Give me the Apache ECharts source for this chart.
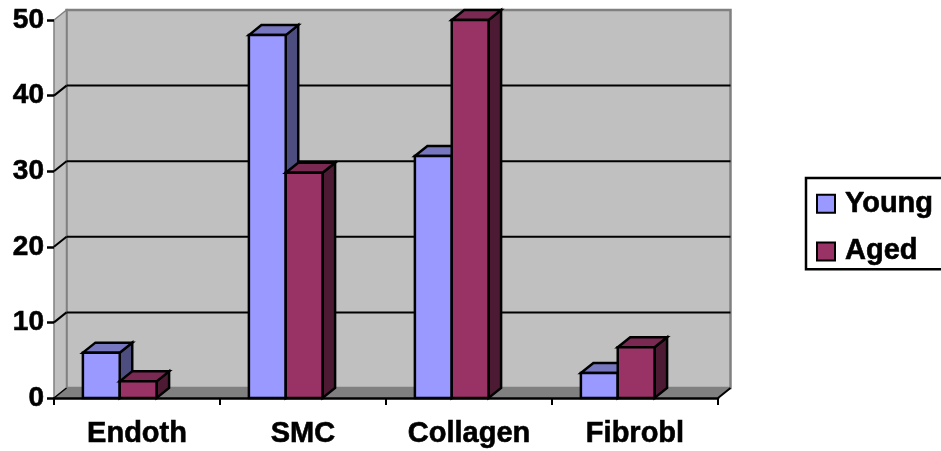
<!DOCTYPE html>
<html>
<head>
<meta charset="utf-8">
<style>html,body{margin:0;padding:0;background:#fff;overflow:hidden}#chart{width:941px;height:451px}</style>
<script src="https://cdn.jsdelivr.net/npm/echarts@6/dist/echarts.min.js"></script>
</head>
<body>
<div id="chart"></div>
<script>
var categories = ['Endoth', 'SMC', 'Collagen', 'Fibrobl'];
var young = [6, 48, 32, 3.3];
var aged = [2.2, 29.8, 50, 6.7];
var yTicks = [0, 10, 20, 30, 40, 50];

// 3d look, in pixels
var depthX = 12.5;
var depthY = -10;
var barRatio = 0.222;
var groupShift = -0.104;
var fontName = '"Liberation Sans", Arial, sans-serif';

function poly(points, fill, stroke, width) {
	return {
		type: 'polygon',
		shape: { points: points },
		style: { fill: fill, stroke: stroke, lineWidth: width, lineJoin: 'miter' }
	};
}

function line(a, b, color, width) {
	return {
		type: 'line',
		shape: { x1: a[0], y1: a[1], x2: b[0], y2: b[1] },
		style: { stroke: color, lineWidth: width }
	};
}

// Back wall, side wall, floor and the gridlines
function renderWalls(params, api) {
	var band = api.size([1, 0])[0];
	var x0 = api.coord([0, 0])[0] - band / 2;
	var x1 = api.coord([categories.length - 1, 0])[0] + band / 2;
	var y0 = api.coord([0, 0])[1];
	var y1 = api.coord([0, 50])[1];
	var kids = [
		poly([[x0 + depthX, y0 + depthY], [x0 + depthX, y1 + depthY], [x1 + depthX, y1 + depthY], [x1 + depthX, y0 + depthY]], '#c0c0c0', '#808080', 2.5),
		poly([[x0, y0], [x0, y1], [x0 + depthX, y1 + depthY], [x0 + depthX, y0 + depthY]], '#c0c0c0', '#808080', 1.5),
		poly([[x0, y0], [x0 + depthX, y0 + depthY], [x1 + depthX, y0 + depthY], [x1, y0]], '#808080', '#808080', 1)
	];
	yTicks.forEach(function (t) {
		var y = api.coord([0, t])[1];
		if (t > 0 && t < 50) {
			kids.push(line([x0 + depthX, y + depthY], [x1 + depthX, y + depthY], '#000', 2));
			kids.push(line([x0, y], [x0 + depthX, y + depthY], '#000', 2));
		}
	});
	kids.push(line([x1, y0], [x1 + depthX, y0 + depthY], '#000', 2));
	kids.push(line([x0, y0], [x0 + depthX, y0 + depthY], '#000', 1.5));
	return { type: 'group', children: kids };
}

function makeBars(slot, front, top, side) {
	return function (params, api) {
		var base = api.coord([api.value(0), 0]);
		var head = api.coord([api.value(0), api.value(1)]);
		var band = api.size([1, 0])[0];
		var w = band * barRatio;
		var l = base[0] + band * groupShift + (slot - 1) * w;
		var r = l + w;
		var b = base[1];
		var t = head[1];
		return {
			type: 'group',
			children: [
				poly([[r, b], [r, t], [r + depthX, t + depthY], [r + depthX, b + depthY]], side, '#000', 2.5),
				poly([[l, t], [l + depthX, t + depthY], [r + depthX, t + depthY], [r, t]], top, '#000', 2.5),
				poly([[l, b], [l, t], [r, t], [r, b]], front, '#000', 2.5)
			]
		};
	};
}

var chart = echarts.init(document.getElementById('chart'));

chart.setOption({
	animation: false,
	backgroundColor: '#ffffff',
	grid: { left: 54, right: 223, top: 20, bottom: 53 },
	legend: {
		data: ['Young', 'Aged'],
		orient: 'vertical',
		left: 806,
		top: 178,
		padding: [11, 12, 3, 10],
		itemGap: 18,
		itemWidth: 18,
		itemHeight: 18,
		icon: 'rect',
		borderColor: '#000',
		borderWidth: 2.5,
		textStyle: { fontFamily: fontName, fontWeight: 'bold', fontSize: 29, color: '#000', textBorderColor: '#000', textBorderWidth: 0.6, padding: [3, 0, 0, 5] }
	},
	xAxis: {
		type: 'category',
		data: categories,
		z: 10,
		axisLine: { lineStyle: { color: '#000', width: 2.5 } },
		axisTick: { show: true, length: 7, lineStyle: { color: '#000', width: 2 } },
		axisLabel: { fontFamily: fontName, fontWeight: 'bold', fontSize: 29, color: '#000', textBorderColor: '#000', textBorderWidth: 0.6, margin: 21 }
	},
	yAxis: {
		type: 'value',
		min: 0,
		max: 50,
		interval: 10,
		z: 10,
		splitLine: { show: false },
		axisLine: { show: false },
		axisTick: { show: true, length: 7, lineStyle: { color: '#000', width: 2.5 } },
		axisLabel: { fontFamily: fontName, fontWeight: 'bold', fontSize: 28, color: '#000', textBorderColor: '#000', textBorderWidth: 0.6, margin: 10, padding: [3, 0, 0, 0] }
	},
	series: [
		{
			name: 'walls',
			type: 'custom',
			silent: true,
			clip: false,
			data: [[0, 0]],
			encode: { x: 0, y: 1 },
			renderItem: renderWalls,
			z: 1
		},
		{
			name: 'Young',
			type: 'custom',
			clip: false,
			itemStyle: { color: '#9999ff', borderColor: '#000', borderWidth: 2 },
			data: young.map(function (v, i) { return [i, v]; }),
			encode: { x: 0, y: 1 },
			renderItem: makeBars(0, '#9999ff', '#7777c0', '#4d4d80'),
			z: 2
		},
		{
			name: 'Aged',
			type: 'custom',
			clip: false,
			itemStyle: { color: '#993366', borderColor: '#000', borderWidth: 2 },
			data: aged.map(function (v, i) { return [i, v]; }),
			encode: { x: 0, y: 1 },
			renderItem: makeBars(1, '#993366', '#7a2952', '#4d1a33'),
			z: 3
		}
	]
});
</script>
</body>
</html>
